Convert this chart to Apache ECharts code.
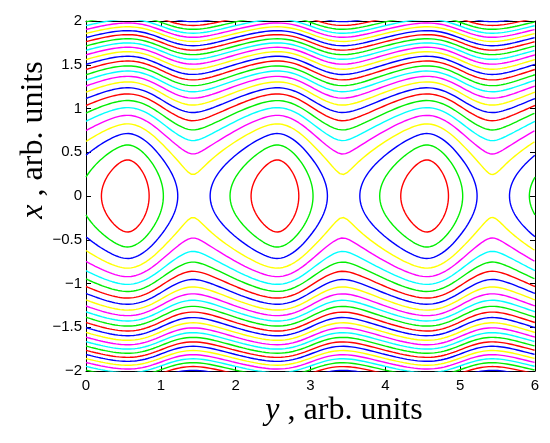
<!DOCTYPE html>
<html><head><meta charset="utf-8">
<script src="https://cdn.jsdelivr.net/npm/echarts@6/dist/echarts.min.js"></script>
<style>html,body{margin:0;padding:0;background:#fff}#c{width:550px;height:443px}</style>
</head><body><div id="c"></div>
<script>
// ---- data ----
const yTicks = [0, 1, 2, 3, 4, 5, 6];                       // horizontal axis (y)
const xTicks = [-2, -1.5, -1, -0.5, 0, 0.5, 1, 1.5, 2];     // vertical axis (x)
const islandCenters = [0.555, 2.555, 4.555];                // O-points (y)
const xPoints = [1.43, 3.43, 5.43];                         // X-points (y)
const period = 2;
const islandDepth = 0.31;                                   // H(X-point) - H(O-point)
const profileSharpness = 0.93;                              // near x = 0 the profile is triangle-like
const sharpnessDecay = 0.8;                                 // |x| over which it relaxes to a sine
const levels = [0.085,0.17,0.255,0.34,0.425,0.51,0.595,0.68,0.765,0.85,0.935,1.02,1.105,1.19,
                1.275,1.36,1.445,1.53,1.615,1.7,1.785,1.87,1.955,2.04,2.125,2.21,2.295];
const levelColors = ['r','g','b','y','m','c','g','r','b','y','m','c','g','r','b','y','m','c',
                     'g','r','b','y','m','c','g','r','b'];
const colorMap = {r:'#ff0000', g:'#00ee00', b:'#0000ff', y:'#ffff00', m:'#ff00ff', c:'#00ffff'};

// ---- field H(x,y) = x^2/2 + V(x,y) ----
const phase = islandCenters[0];
const oToX = xPoints[0] - islandCenters[0];
const aShift = (1 - oToX / (period / 2)) * Math.PI;
const asym = aShift / (1 + Math.cos(aShift));
const sNorm = Math.asin(profileSharpness);
function theta(y) {
  const u = 2 * Math.PI * (y - phase) / period;
  return u + asym * (1 - Math.cos(u));
}
function V(x, y) {
  const c = Math.cos(theta(y));
  const gSine = (1 - c) / 2;
  const gTri = (1 - Math.asin(profileSharpness * c) / sNorm) / 2;
  const w = Math.exp(-(x / sharpnessDecay) * (x / sharpnessDecay));
  return islandDepth * (gSine + w * (gTri - gSine));
}
function solveX(y, h) { // |x| with x^2/2 + V(x,y) = h
  let lo = 0, hi = Math.sqrt(2 * h) + 1e-9;
  for (let k = 0; k < 40; k++) {
    const m = (lo + hi) / 2;
    if (m * m / 2 + V(m, y) < h) lo = m; else hi = m;
  }
  return (lo + hi) / 2;
}
const Y0 = yTicks[0], Y1 = yTicks[yTicks.length - 1];

function contourLines(h) {
  const n = 3000, step = (Y1 - Y0) / n;
  const V0 = y => V(0, y);
  const inside = [];
  for (let i = 0; i <= n; i++) inside.push(V0(Y0 + i * step) < h);
  const root = (lo, hi) => {
    const sLo = V0(lo) < h;
    for (let k = 0; k < 50; k++) { const m = (lo + hi) / 2; if ((V0(m) < h) === sLo) lo = m; else hi = m; }
    return (lo + hi) / 2;
  };
  const intervals = [];
  let start = null, startRoot = false;
  for (let i = 0; i <= n; i++) {
    const y = Y0 + i * step;
    if (inside[i] && start === null) {
      if (i === 0) { start = Y0; startRoot = false; }
      else { start = root(y - step, y); startRoot = true; }
    }
    if (!inside[i] && start !== null) {
      intervals.push([start, root(y - step, y), startRoot, true]);
      start = null;
    }
  }
  if (start !== null) intervals.push([start, Y1, startRoot, false]);
  const lines = [];
  intervals.forEach(([a, b, aR, bR]) => {
    const N = 360, top = [], bot = [];
    for (let k = 0; k <= N; k++) {
      const s = (1 - Math.cos(Math.PI * k / N)) / 2;
      const y = a + (b - a) * s;
      let x = solveX(y, h);
      if ((k === 0 && aR) || (k === N && bR)) x = 0;
      top.push([y, x]); bot.push([y, -x]);
    }
    const botRev = bot.slice().reverse();
    if (aR && bR) lines.push(top.concat(botRev.slice(1)));
    else if (aR) lines.push(botRev.concat(top.slice(1)));
    else if (bR) lines.push(top.concat(botRev.slice(1)));
    else { lines.push(top); lines.push(bot); }
  });
  return lines;
}

const series = [];
levels.forEach((h, i) => {
  contourLines(h).forEach(pts => {
    series.push({
      type: 'line', data: pts, showSymbol: false, symbol: 'none', clip: true, silent: true,
      animation: false, lineStyle: {color: colorMap[levelColors[i]], width: 1.4}, z: 2
    });
  });
});

const minus = v => String(v).replace('-', '\u2212');
const tickFont = {fontSize: 15, color: '#000', fontFamily: 'Liberation Sans, Arial, sans-serif'};
const axisCommon = {
  axisLine: {show: true, onZero: false, lineStyle: {color: '#000', width: 1}},
  axisTick: {show: true, inside: true, length: 5, lineStyle: {color: '#000'}},
  splitLine: {show: false}
};
const chart = echarts.init(document.getElementById('c'), null, {renderer: 'canvas'});
chart.setOption({
  animation: false,
  backgroundColor: '#fff',
  grid: {left: 86, right: 15, top: 21, bottom: 72, containLabel: false},
  xAxis: [
    Object.assign({type: 'value', position: 'bottom', min: yTicks[0], max: yTicks[yTicks.length-1], interval: 1,
      axisLabel: Object.assign({margin: 7, formatter: minus}, tickFont)}, axisCommon),
    Object.assign({type: 'value', position: 'top', min: yTicks[0], max: yTicks[yTicks.length-1], interval: 1,
      axisLabel: {show: false}}, axisCommon)
  ],
  yAxis: [
    Object.assign({type: 'value', position: 'left', min: xTicks[0], max: xTicks[xTicks.length-1], interval: 0.5,
      axisLabel: Object.assign({margin: 4, formatter: minus}, tickFont)}, axisCommon),
    Object.assign({type: 'value', position: 'right', min: xTicks[0], max: xTicks[xTicks.length-1], interval: 0.5,
      axisLabel: {show: false}}, axisCommon)
  ],
  series: series,
  graphic: [
    {type: 'text', x: 344, y: 411, z: 10,
     style: {text: '{i|y} , arb. units', font: '32px "Liberation Serif", serif', fill: '#000',
             align: 'center', verticalAlign: 'middle', textAlign: 'center', textVerticalAlign: 'middle',
             rich: {i: {fontStyle: 'italic', fontSize: 32, fontFamily: 'Liberation Serif'}}}},
    {type: 'text', x: 34, y: 140, rotation: Math.PI / 2, z: 10,
     style: {text: '{i|x} , arb. units', font: '32px "Liberation Serif", serif', fill: '#000',
             align: 'center', verticalAlign: 'middle', textAlign: 'center', textVerticalAlign: 'middle',
             rich: {i: {fontStyle: 'italic', fontSize: 32, fontFamily: 'Liberation Serif'}}}}
  ]
});
</script></body></html>
